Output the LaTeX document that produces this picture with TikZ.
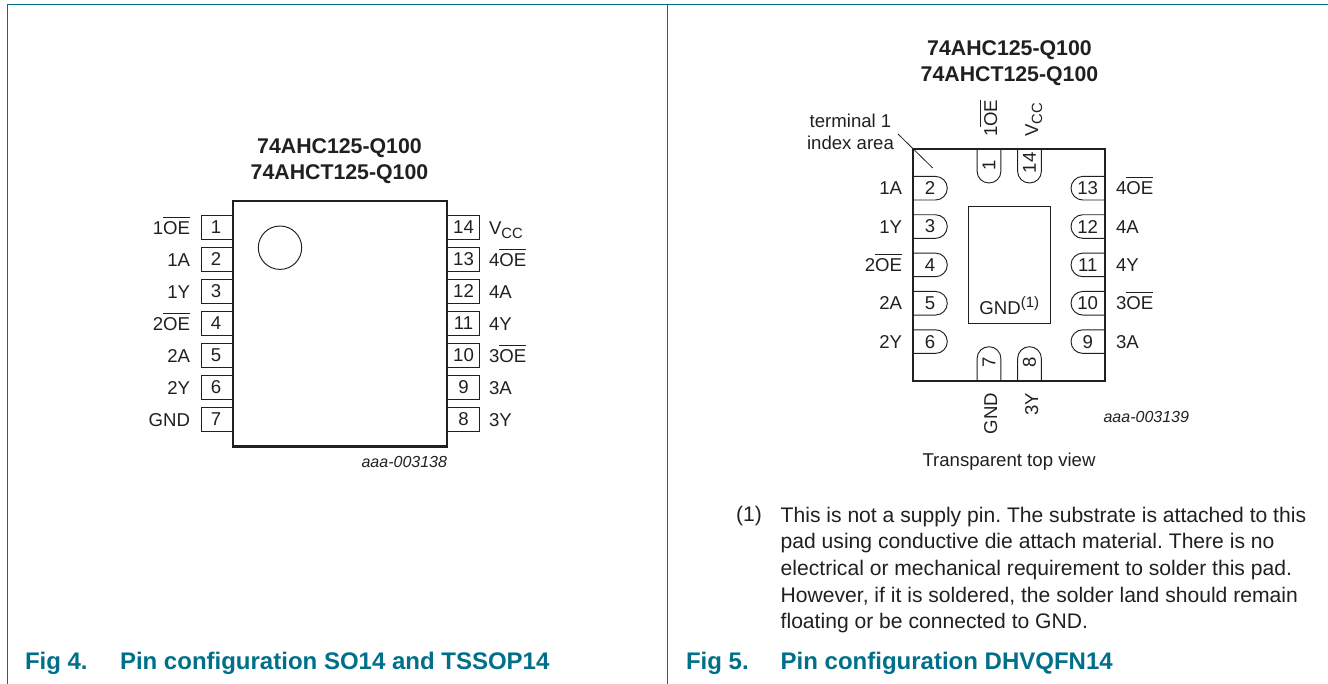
\documentclass[tikz,border=0pt]{standalone}
\usepackage{fontspec}
\usepackage{calc}
\setmainfont{Liberation Sans}
\definecolor{nxp}{HTML}{00708A}
\definecolor{ink}{HTML}{231F20}
\newcommand{\ovl}[1]{\leavevmode\rlap{\rule[0.88em]{\widthof{#1}}{0.055em}}#1}
\newcommand{\vccs}{V\raisebox{-0.22em}{\fontsize{14.8}{15}\selectfont CC}}
\tikzset{
 x=1pt,y=-1pt,
 every node/.style={inner sep=0pt,outer sep=0pt,text=ink,font=\fontsize{18.6}{22.7}\selectfont},
 frameline/.style={draw=nxp,line width=1.1pt},
 body/.style={draw=ink,line width=2.4pt,line join=miter},
 thin box/.style={draw=ink,line width=0.95pt},
 title/.style={font=\fontsize{21.3}{25.5}\selectfont\bfseries,align=center},
 caption/.style={text=nxp,font=\fontsize{24}{28}\selectfont\bfseries,anchor=base west},
 pin/.style={anchor=center},
 lbl/.style={anchor=base east},
 lbr/.style={anchor=base west},
 code/.style={font=\fontsize{16}{19}\selectfont\itshape},
 notetext/.style={font=\fontsize{21.1}{26.6}\selectfont\frenchspacing},
}
\begin{document}
\begin{tikzpicture}
\useasboundingbox (0,0) rectangle (1328,684);
% frame
\draw[frameline] (7.3,684) -- (7.3,4.5) -- (1328,4.5);
\draw[frameline] (667.3,4.5) -- (667.3,684);
% ---------- left package
\node[title] (ttl) at (339.5,161) {74AHC125-Q100\\74AHCT125-Q100};
\foreach \n/\l [count=\i from 0] in {1/1\ovl{OE},2/1A,3/1Y,4/2\ovl{OE},5/2A,6/2Y,7/GND}{
  \pgfmathsetmacro\yy{227.5+32*\i}
  \draw[thin box] (233,\yy-11.8) -- (201,\yy-11.8) -- (201,\yy+11.8) -- (233,\yy+11.8);
  \node[pin] (L\n) at (216,\yy) {\n};
  \node[lbl] (LL\n) at (190,\yy+6.7) {\l};
}
\foreach \n/\l/\dy [count=\i from 0] in {14/\vccs/7,13/4\ovl{OE}/6.7,12/4A/6.7,11/4Y/6.7,10/3\ovl{OE}/6.7,9/3A/6.7,8/3Y/6.7}{
  \pgfmathsetmacro\yy{227.5+32*\i}
  \draw[thin box] (447,\yy-11.8) -- (479,\yy-11.8) -- (479,\yy+11.8) -- (447,\yy+11.8);
  \node[pin] (R\n) at (463.5,\yy) {\n};
  \node[lbr] (RL\n) at (489,\yy+\dy) {\l};
}
\draw[body] (233,201) rectangle (447,446.5);
\node[draw=ink,line width=0.95pt,circle,minimum size=43.4pt] (dot) at (280,247.7) {};
\node[code,anchor=base east] (codeA) at (447,467) {aaa-003138};
% ---------- right package
\node[title] (ttr) at (1009.5,63) {74AHC125-Q100\\74AHCT125-Q100};
% left pads
\foreach \n/\l [count=\i from 0] in {2/1A,3/1Y,4/2\ovl{OE},5/2A,6/2Y}{
  \pgfmathsetmacro\yy{188.2+38.35*\i}
  \draw[thin box] (913,\yy-11.8) -- (935.5,\yy-11.8) .. controls (942,\yy-11.8) and (947.3,\yy-6.5) .. (947.3,\yy) .. controls (947.3,\yy+6.5) and (942,\yy+11.8) .. (935.5,\yy+11.8) -- (913,\yy+11.8);
  \node[pin] (A\n) at (930,\yy) {\n};
  \node[lbl] (AL\n) at (902,\yy+6.5) {\l};
}
\foreach \n/\l [count=\i from 0] in {13/4\ovl{OE},12/4A,11/4Y,10/3\ovl{OE},9/3A}{
  \pgfmathsetmacro\yy{188.2+38.35*\i}
  \draw[thin box] (1105,\yy-11.8) -- (1082.8,\yy-11.8) .. controls (1076.3,\yy-11.8) and (1071,\yy-6.5) .. (1071,\yy) .. controls (1071,\yy+6.5) and (1076.3,\yy+11.8) .. (1082.8,\yy+11.8) -- (1105,\yy+11.8);
  \node[pin] (B\n) at (1087.7,\yy) {\n};
  \node[lbr] (BL\n) at (1116,\yy+6.5) {\l};
}
% top pads
\foreach \n/\l/\xx/\bb/\ny in {1/1\ovl{OE}/989/8/165.7,14/\vccs/1029.5/8.5/163}{
  \draw[thin box] (\xx-11.9,149) -- (\xx-11.9,171.2) .. controls (\xx-11.9,177.8) and (\xx-6.6,183) .. (\xx,183) .. controls (\xx+6.6,183) and (\xx+11.9,177.8) .. (\xx+11.9,171.2) -- (\xx+11.9,149);
  \node[pin,rotate=90] (T\n) at (\xx,\ny) {\n};
  \node[rotate=90,anchor=base west] (TL\n) at (\xx+\bb,137) {\l};
}
% bottom pads
\foreach \n/\l/\xx/\bb in {7/GND/989/8,8/3Y/1029.5/8.5}{
  \draw[thin box] (\xx-11.9,381) -- (\xx-11.9,358.6) .. controls (\xx-11.9,352) and (\xx-6.6,346.7) .. (\xx,346.7) .. controls (\xx+6.6,346.7) and (\xx+11.9,352) .. (\xx+11.9,358.6) -- (\xx+11.9,381);
  \node[pin,rotate=90] (U\n) at (\xx,362.7) {\n};
  \node[rotate=90,anchor=base east] (UL\n) at (\xx+\bb,393) {\l};
}
\draw[body] (913,149) rectangle (1105,381.3);
\node[thin box,minimum width=81.7pt,minimum height=117.7pt,anchor=north west] (pad) at (968.3,206) {};
\node[anchor=base] (gnd) at (1009.3,315) {GND\raisebox{0.42em}{\fontsize{15}{15}\selectfont(1)}};
\coordinate (ia) at (898,134);
\coordinate (ib) at (932.7,168);
\draw[thin box,line width=0.8pt] (ia) -- (ib);
\node[align=center] (term) at (850.5,132) {terminal 1\\index area};
\node[code,anchor=base east] (codeB) at (1189,423) {aaa-003139};
\node[anchor=base] (tv) at (1009,466.7) {Transparent top view};
% note
\node[notetext,anchor=base west] (nn) at (736,521.7) {(1)};
\node[notetext,anchor=north west,align=left] (note) at (780.7,507) {%
This is not a supply pin. The substrate is attached to this\\
pad using conductive die attach material. There is no\\
electrical or mechanical requirement to solder this pad.\\
However, if it is soldered, the solder land should remain\\
floating or be connected to GND.};
% captions
\node[caption] (c4) at (25,669) {Fig 4.};
\node[caption] (c4t) at (120,669) {Pin configuration SO14 and TSSOP14};
\node[caption] (c5) at (686,669) {Fig 5.};
\node[caption] (c5t) at (780.7,669) {Pin configuration DHVQFN14};
\end{tikzpicture}
\end{document}
